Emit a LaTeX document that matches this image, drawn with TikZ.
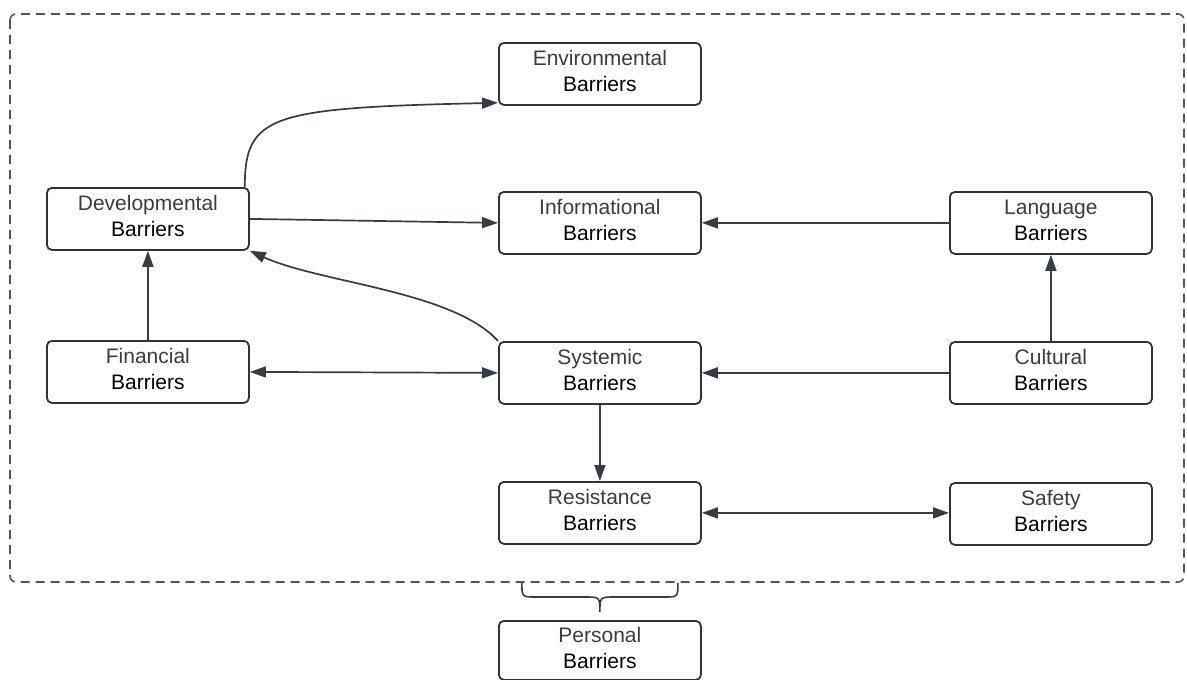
\documentclass[tikz,border=0pt]{standalone}
\usepackage{fontspec}
\setmainfont{Liberation Sans}
\usetikzlibrary{arrows.meta,calc}
\definecolor{boxline}{RGB}{51,51,51}
\definecolor{conn}{RGB}{55,60,68}
\definecolor{dashc}{RGB}{80,85,95}
\definecolor{firstline}{RGB}{60,60,60}
\tikzset{
  barrier/.style={draw=boxline, line width=1.8pt, rounded corners=5pt, minimum width=202pt, minimum height=62pt, inner sep=0pt, anchor=north west},
  lbl/.style={anchor=base, inner sep=0pt, font=\fontsize{21}{26}\selectfont},
  connector/.style={draw=conn, line width=1.7pt, -{Triangle[length=16pt,width=11pt]}},
  biconn/.style={draw=conn, line width=1.7pt, {Triangle[length=16pt,width=11pt]}-{Triangle[length=16pt,width=11pt]}},
  outer/.style={draw=dashc, line width=1.6pt, dash pattern=on 9pt off 6pt, rounded corners=6pt},
}
\newcommand\mybox[5]{%
  \node[barrier] (#1) at (#2,#3) {};
  \node[lbl, text=firstline] (#1-a) at ($(#1.north)+(0,23.5)$) {#4};
  \node[lbl, text=black] (#1-b) at ($(#1.north)+(0,49.5)$) {#5};
}
\begin{document}
\begin{tikzpicture}[x=1pt,y=-1pt]
\useasboundingbox (0,0) rectangle (1187,680);
\draw[outer] (10,14) rectangle (1184,582);
\mybox{env}{498}{42}{Environmental}{Barriers}
\mybox{info}{498}{191}{Informational}{Barriers}
\mybox{lang}{949}{191}{Language}{Barriers}
\mybox{dev}{46}{187}{Developmental}{Barriers}
\mybox{fin}{46}{340}{Financial}{Barriers}
\mybox{sys}{498}{341}{Systemic}{Barriers}
\mybox{cult}{949}{341}{Cultural}{Barriers}
\mybox{res}{498}{481}{Resistance}{Barriers}
\mybox{safe}{949}{482}{Safety}{Barriers}
\node[barrier, minimum height=59pt] (pers) at (498,620) {};
\node[lbl, text=firstline] (pers-a) at ($(pers.north)+(0,22)$) {Personal};
\node[lbl, text=black] (pers-b) at ($(pers.north)+(0,48.5)$) {Barriers};
% connectors
\draw[connector] ($(dev.north east)+(-5,0)$) .. controls +(0,-72) and +(-228,5) .. ($(env.south west)+(0,-3)$);
\draw[connector] (dev.east) -- (info.west);
\draw[connector] (lang.west) -- (info.east);
\draw[connector] (sys.north west) .. controls +(-45,-50) and +(70,32) .. (dev.south east);
\draw[connector] (fin.north) -- (dev.south);
\draw[biconn] (fin.east) -- (sys.west);
\draw[connector] (cult.west) -- (sys.east);
\draw[connector] (cult.north) -- (lang.south);
\draw[connector] (sys.south) -- (res.north);
\draw[biconn] (res.east) -- (safe.west |- res.east);
% brace
\coordinate (tip) at ($(pers.north)+(0,-8)$);
\draw[draw=conn, line width=1.6pt] ($(tip)+(-78,-29)$) .. controls ($(tip)+(-78,-15)$) .. ($(tip)+(-64,-15)$) -- ($(tip)+(-15,-15)$) .. controls ($(tip)+(0,-15)$) .. (tip) .. controls ($(tip)+(0,-15)$) .. ($(tip)+(15,-15)$) -- ($(tip)+(64,-15)$) .. controls ($(tip)+(78,-15)$) .. ($(tip)+(78,-29)$);
\end{tikzpicture}
\end{document}
